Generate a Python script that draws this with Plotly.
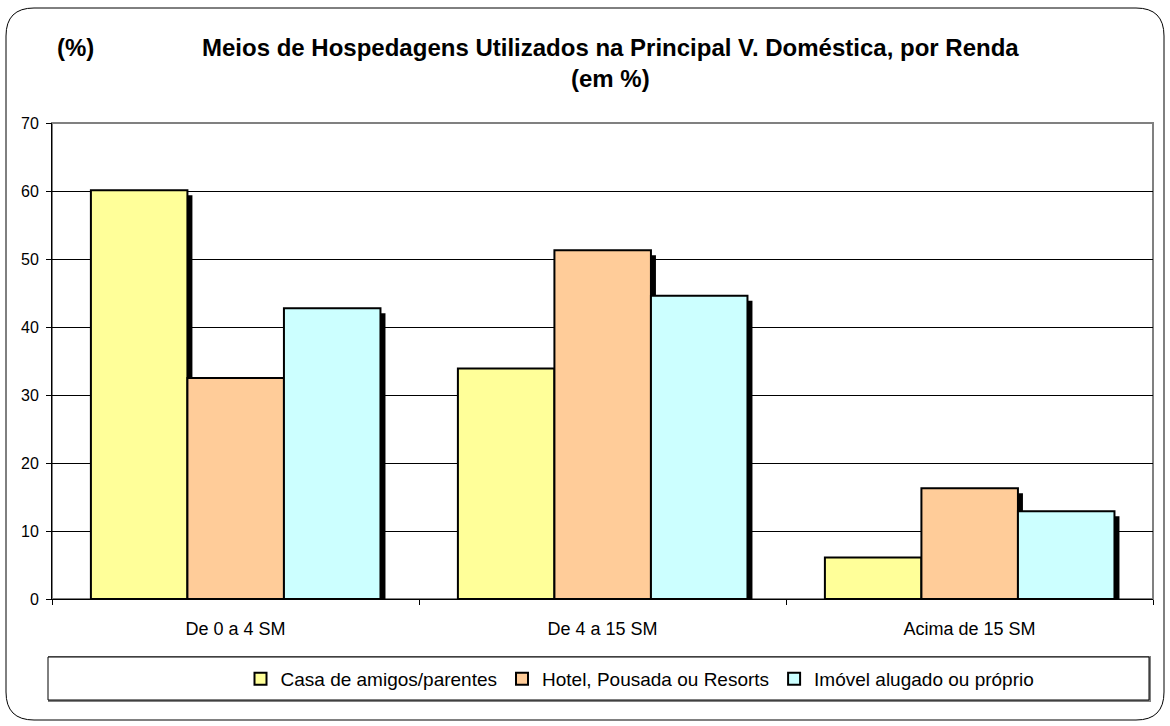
import plotly.graph_objects as go

categories = ["De 0 a 4 SM", "De 4 a 15 SM", "Acima de 15 SM"]
series_names = ["Casa de amigos/parentes", "Hotel, Pousada ou Resorts", "Imóvel alugado ou próprio"]
casa = [60.1, 33.9, 6.1]
hotel = [32.5, 51.3, 16.3]
imovel = [42.75, 44.6, 12.9]
y_ticks = [0, 10, 20, 30, 40, 50, 60, 70]

colors = ["#FFFF99", "#FFCC99", "#CCFFFF"]
series = [casa, hotel, imovel]

W, H = 1170, 726
ML, MR, MT, MB = 52, 17, 123, 127
PW, PH = W - ML - MR, H - MT - MB
YMAX = 70

bar_w = 0.263
offsets = [-0.394, -0.131, 0.132]
shadow_dx = 5 / (PW / 3)
shadow_dy = 5 * YMAX / PH

fig = go.Figure()
# shadows
for vals, off in zip(series, offsets):
    fig.add_trace(go.Bar(
        x=categories, y=[v - shadow_dy for v in vals], base=0,
        offset=off + shadow_dx, width=bar_w,
        marker=dict(color="black", line=dict(width=0)),
        showlegend=False, hoverinfo="skip"))
# main bars
for name, vals, off, col in zip(series_names, series, offsets, colors):
    fig.add_trace(go.Bar(
        x=categories, y=vals, name=name,
        offset=off, width=bar_w,
        marker=dict(color=col, line=dict(color="black", width=2))))

def px(xp):
    return (xp - ML) / PW

def py(yp):
    return (H - MB - yp) / PH

# outer rounded frame
x0, y0, x1, y1, r = 6, 8, 1164, 720, 28
path = (f"M {px(x0+r)},{py(y0)} L {px(x1-r)},{py(y0)} Q {px(x1)},{py(y0)} {px(x1)},{py(y0+r)} "
        f"L {px(x1)},{py(y1-r)} Q {px(x1)},{py(y1)} {px(x1-r)},{py(y1)} "
        f"L {px(x0+r)},{py(y1)} Q {px(x0)},{py(y1)} {px(x0)},{py(y1-r)} "
        f"L {px(x0)},{py(y0+r)} Q {px(x0)},{py(y0)} {px(x0+r)},{py(y0)} Z")

shapes = [
    dict(type="path", xref="paper", yref="paper", path=path,
         line=dict(color="black", width=1), layer="below"),
    dict(type="rect", xref="paper", yref="paper", x0=0, y0=0, x1=1, y1=1,
         line=dict(color="#808080", width=2), layer="below"),
    # legend box
    dict(type="rect", xref="paper", yref="paper", x0=px(49), x1=px(1150), y0=py(701), y1=py(657),
         line=dict(color="#808080", width=2), layer="below"),
    dict(type="rect", xref="paper", yref="paper", x0=px(48), x1=px(1149), y0=py(700), y1=py(657),
         line=dict(color="black", width=1), fillcolor="white", layer="below"),
]

font = "Liberation Sans, Arial, sans-serif"
annotations = [
    dict(text="<b>(%)</b>", xref="paper", yref="paper", x=px(75), y=py(48),
         xanchor="center", yanchor="middle", showarrow=False,
         font=dict(family=font, size=24, color="black")),
    dict(text="<b>Meios de Hospedagens Utilizados na Principal V. Doméstica, por Renda<br>(em %)</b>",
         xref="paper", yref="paper", x=px(610), y=py(63),
         xanchor="center", yanchor="middle", showarrow=False, align="center",
         font=dict(family=font, size=24, color="black")),
]

fig.update_layout(
    width=W, height=H,
    margin=dict(l=ML, r=MR, t=MT, b=MB, pad=0),
    paper_bgcolor="white", plot_bgcolor="white",
    barmode="overlay",
    font=dict(family=font, size=16, color="black"),
    shapes=shapes, annotations=annotations,
    showlegend=True,
    legend=dict(orientation="h", x=px(640), y=py(679), xanchor="center", yanchor="middle",
                bgcolor="rgba(0,0,0,0)", borderwidth=0,
                font=dict(family=font, size=19, color="black"),
                traceorder="normal", itemsizing="constant"),
    xaxis=dict(type="category", range=[-0.5, 2.5], tickson="boundaries",
               ticks="outside", ticklen=5, tickcolor="black", tickwidth=1,
               showline=True, linecolor="black", linewidth=1, showgrid=False,
               tickfont=dict(family=font, size=18, color="black"),
               ticklabelstandoff=13, fixedrange=True),
    yaxis=dict(range=[0, YMAX], tickvals=y_ticks, ticks="outside", ticklen=5,
               tickcolor="black", showline=True, linecolor="black", linewidth=1,
               showgrid=True, gridcolor="black", gridwidth=1, zeroline=False,
               tickfont=dict(family=font, size=16, color="black"),
               ticklabelstandoff=4, fixedrange=True),
)

fig.write_html("out.html", config={"displayModeBar": False},
               post_script="document.body.style.margin='0';document.body.style.overflow='hidden';")
